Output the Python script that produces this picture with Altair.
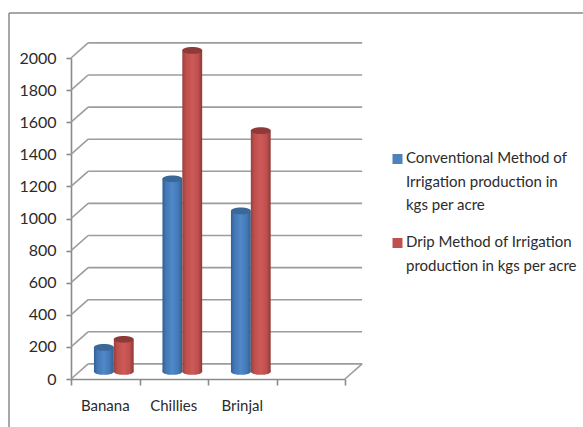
import altair as alt
import pandas as pd

# Production figures, kgs per acre
CROPS = ["Banana", "Chillies", "Brinjal"]
CONVENTIONAL = [150, 1200, 1000]
DRIP = [200, 2000, 1500]
LEGEND_CONVENTIONAL = ["Conventional Method of", "Irrigation production in", "kgs per acre"]
LEGEND_DRIP = ["Drip Method of Irrigation", "production in kgs per acre"]
Y_TICKS = list(range(0, 2001, 200))
X_TICKS = [0, 1, 2, 3, 4]

# Pseudo-3D depth of the chart box, in axis units
DEPTH_X = 0.25
DEPTH_Y = 94
BAR_W = 0.29

FONT = "Lato"
GRID = "#9c9c9c"
AXIS = "#8a8a8a"
TEXT = "#2b2b2b"

x_scale = alt.Scale(domain=[0, 4], nice=False, zero=False)
y_scale = alt.Scale(domain=[0, 2000], nice=False, zero=False)

# Every layer carries the same axis definitions so they merge into one
x_axis = alt.Axis(
    values=X_TICKS, labels=False, title=None, grid=False, domainColor=AXIS,
    domainWidth=1.6, tickColor=AXIS, tickWidth=1.6, tickSize=6,
)
y_axis = alt.Axis(
    values=Y_TICKS, format="d", labelOverlap=False, title=None, grid=False,
    domainColor=AXIS, domainWidth=1.6, tickColor=AXIS, tickWidth=1.6, tickSize=5,
    labelFont=FONT, labelFontSize=16, labelColor=TEXT, labelPadding=10,
)


def X(field):
    return alt.X(field, scale=x_scale, axis=x_axis)


def Y(field):
    return alt.Y(field, scale=y_scale, axis=y_axis)


def gradient(dark_l, mid, bright, dark_r):
    return alt.Gradient(
        gradient="linear", x1=0, x2=1, y1=0, y2=0,
        stops=[
            alt.GradientStop(color=dark_l, offset=0),
            alt.GradientStop(color=mid, offset=0.18),
            alt.GradientStop(color=bright, offset=0.5),
            alt.GradientStop(color=mid, offset=0.8),
            alt.GradientStop(color=dark_r, offset=1),
        ],
    )


BLUE_BODY = gradient("#2f5f97", "#4478b5", "#5088c8", "#30608f")
RED_BODY = gradient("#96403e", "#bf4f4c", "#cc5a58", "#8c3937")

# Wall gridlines, floor edges and the side diagonals
levels = pd.DataFrame({"v": Y_TICKS})
levels["v_back"] = levels["v"] + DEPTH_Y
levels["x0"] = 0.0
levels["x_back"] = DEPTH_X
levels["x_end"] = 4 + DEPTH_X

walls = alt.Chart(levels).mark_rule(color=GRID, strokeWidth=1.6).encode(
    x=X("x_back:Q"), x2="x_end:Q", y=Y("v_back:Q"),
)
diagonals = alt.Chart(levels).mark_rule(color=GRID, strokeWidth=1.6).encode(
    x=X("x0:Q"), x2="x_back:Q", y=Y("v:Q"), y2="v_back:Q",
)
floor_side = alt.Chart(pd.DataFrame({"x": [4], "x2": [4 + DEPTH_X], "y": [0], "y2": [DEPTH_Y]})).mark_rule(
    color=GRID, strokeWidth=1.6
).encode(x=X("x:Q"), x2="x2:Q", y=Y("y:Q"), y2="y2:Q")


def cylinders(values, side, body, cap):
    rows = pd.DataFrame({"pos": range(len(values)), "value": values})
    rows["base"] = DEPTH_Y / 2
    rows["top"] = rows["value"] + rows["base"]
    centre = DEPTH_X / 2 + 0.5 + side * BAR_W / 2
    rows["mid"] = rows["pos"] + centre
    rows["left"] = rows["mid"] - BAR_W / 2
    rows["right"] = rows["mid"] + BAR_W / 2
    ellipse = "M-1,0A1,0.34 0 1,0 1,0A1,0.34 0 1,0 -1,0Z"
    bottom = alt.Chart(rows).mark_point(
        shape=ellipse, size=400, filled=True, opacity=1, fill=body, strokeWidth=0
    ).encode(x=X("mid:Q"), y=Y("base:Q"))
    shaft = alt.Chart(rows).mark_bar(fill=body, strokeWidth=0).encode(
        x=X("left:Q"), x2="right:Q", y=Y("top:Q"), y2="base:Q",
    )
    lid = alt.Chart(rows).mark_point(
        shape=ellipse, size=400, filled=True, opacity=1, fill=cap, strokeWidth=0
    ).encode(x=X("mid:Q"), y=Y("top:Q"))
    return bottom + shaft + lid


crop_labels = alt.Chart(pd.DataFrame({
    "crop": CROPS,
    "pos": [i + 0.5 for i in range(len(CROPS))],
    "y": [0] * len(CROPS),
})).mark_text(font=FONT, fontSize=15, color=TEXT, dy=27).encode(
    x=X("pos:Q"), y=Y("y:Q"), text="crop:N",
)

# Chart frame: only its top and left edges are drawn
one_row = alt.Data(values=[{"k": 1}])
frame_top = alt.Chart(one_row).mark_rule(color=AXIS, strokeWidth=1.5).encode(
    x=alt.value(-62), x2=alt.value(512), y=alt.value(-45))
frame_left = alt.Chart(one_row).mark_rule(color=AXIS, strokeWidth=1.5).encode(
    x=alt.value(-62), y=alt.value(-45), y2=alt.value(369))


def legend_entry(lines, colour, top):
    swatch = alt.Chart(one_row).mark_square(color=colour, size=100, opacity=1).encode(
        x=alt.value(326.5), y=alt.value(top + 8))
    label = alt.Chart(one_row).mark_text(
        text=lines, font=FONT, fontSize=15, color=TEXT, align="left",
        baseline="top", lineHeight=23.5
    ).encode(x=alt.value(335), y=alt.value(top))
    return swatch + label


chart = alt.layer(
    frame_top, frame_left, walls, diagonals, floor_side,
    cylinders(CONVENTIONAL, -1, BLUE_BODY, "#3a6899"),
    cylinders(DRIP, 1, RED_BODY, "#8d3a38"),
    crop_labels,
    legend_entry(LEGEND_CONVENTIONAL, "#4F81BD", 93),
    legend_entry(LEGEND_DRIP, "#C0504D", 177),
).properties(
    width=274,
    height=321,
    padding={"left": 71, "top": 58, "right": 238, "bottom": 48},
    autosize=alt.AutoSizeParams(type="none"),
    background="white",
).configure_view(stroke=None).configure_axis(labelOverlap=False)

chart.save("out.html", embed_options={"renderer": "svg", "actions": False})
